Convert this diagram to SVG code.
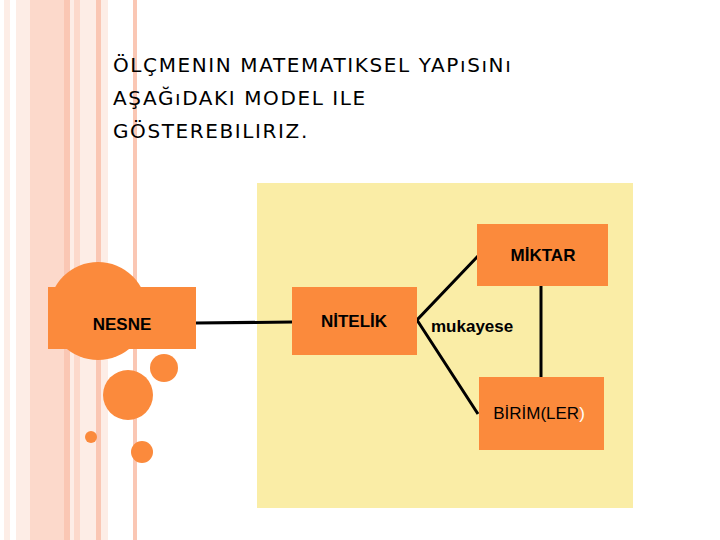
<svg xmlns="http://www.w3.org/2000/svg" width="720" height="540" viewBox="0 0 720 540">
<style>
.box{fill:#FB8A3C}
.c{fill:#FB8A3C}
.t{font-family:"Liberation Sans",Arial,sans-serif;font-weight:bold;font-size:17px;fill:#000}
.h{font-family:"DejaVu Sans",sans-serif;font-size:20px;letter-spacing:1.6px;fill:#000}
.ln{stroke:#000;stroke-width:3;fill:none}
</style>
<rect width="720" height="540" fill="#fff"/>
<g id="stripes">
<rect x="4" y="0" width="104" height="540" fill="#FDEDE6"/>
<rect x="10" y="0" width="6" height="540" fill="#fff"/>
<rect x="30" y="0" width="34" height="540" fill="#FCD9CB"/>
<rect x="64" y="0" width="6" height="540" fill="#FAC7B4"/>
<rect x="74" y="0" width="6" height="540" fill="#FCD9CB"/>
<rect x="96" y="0" width="5" height="540" fill="#FAC7B4"/>
<rect x="133" y="0" width="4" height="540" fill="#FAC7B4"/>
</g>
<rect x="257" y="183" width="376" height="325" fill="#FAEDA6"/>
<g id="decor">
<circle cx="98" cy="311" r="49" class="c"/>
<circle cx="164" cy="368" r="14" class="c"/>
<circle cx="128" cy="395" r="25" class="c"/>
<circle cx="91" cy="437" r="6" class="c"/>
<circle cx="142" cy="452" r="11" class="c"/>
</g>
<g id="title" class="h">
<text x="113" y="72">ÖLÇMENIN MATEMATIKSEL YAPıSıNı</text>
<text x="113" y="105">AŞAĞıDAKI MODEL ILE</text>
<text x="113" y="138">GÖSTEREBILIRIZ.</text>
</g>
<g id="connectors" class="ln">
<line x1="196" y1="323" x2="292" y2="322"/>
<polyline points="478,256 417,320 478,414"/>
<line x1="541" y1="286" x2="541" y2="377"/>
</g>
<g id="nesne"><rect class="box" x="48" y="287" width="148" height="62"/><text class="t" x="122" y="330" text-anchor="middle">NESNE</text></g>
<g id="nitelik"><rect class="box" x="292" y="287" width="125" height="68"/><text class="t" x="354" y="327" text-anchor="middle">NİTELİK</text></g>
<g id="miktar"><rect class="box" x="477" y="224" width="131" height="62"/><text class="t" x="543" y="261" text-anchor="middle">MİKTAR</text></g>
<g id="birim"><rect class="box" x="479" y="377" width="125" height="73"/><text class="t" x="539" y="419" text-anchor="middle" style="font-weight:normal">BİRİM(LER<tspan fill="#fff">)</tspan></text></g>
<text class="t" x="431" y="332">mukayese</text>
</svg>
